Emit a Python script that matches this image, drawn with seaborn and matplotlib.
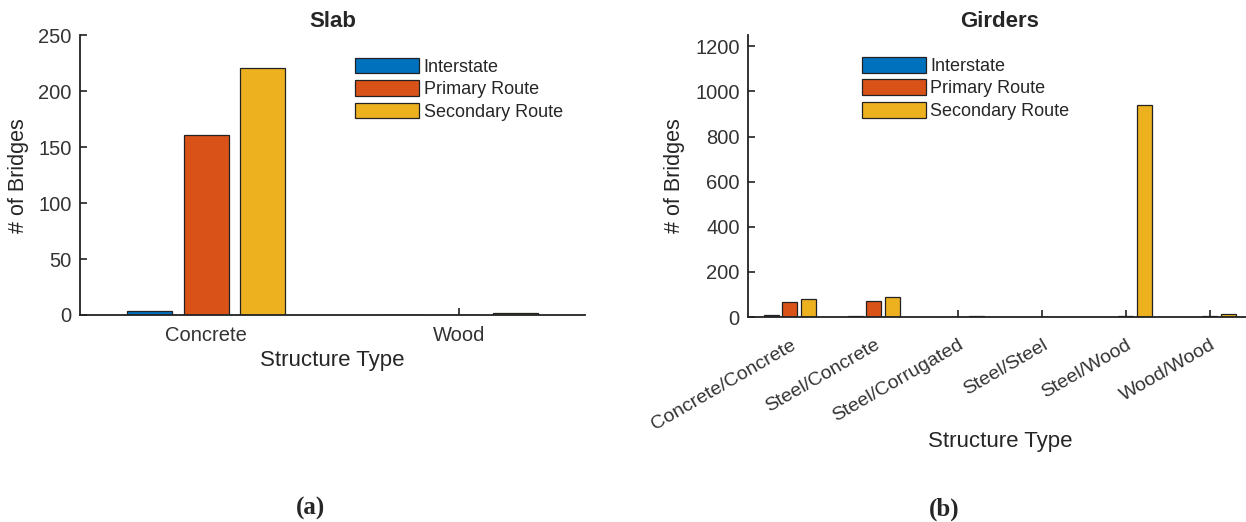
import pandas as pd
import numpy as np
import matplotlib
matplotlib.use("Agg")
import matplotlib.pyplot as plt
import seaborn as sns

sns.set_style("ticks")
plt.rcParams['font.family'] = ['Liberation Sans', 'DejaVu Sans']

# datos
rutas = ['Interstate', 'Primary Route', 'Secondary Route']
colores = ['#0072BD', '#D95319', '#EDB120']

tipos_losa = ['Concrete', 'Wood']
losa_interstate = [4, 0]
losa_primaria = [161, 0]
losa_secundaria = [221, 2]

tipos_viga = ['Concrete/Concrete', 'Steel/Concrete', 'Steel/Corrugated',
              'Steel/Steel', 'Steel/Wood', 'Wood/Wood']
viga_interstate = [8, 5, 0, 0, 0, 1]
viga_primaria = [65, 72, 0, 0, 3, 3]
viga_secundaria = [78, 87, 6, 2, 940, 14]


def tabla_larga(tipos, *series):
    filas = []
    for ruta, valores in zip(rutas, series):
        for t, v in zip(tipos, valores):
            filas.append({'tipo': t, 'ruta': ruta, 'n': v})
    return pd.DataFrame(filas)


df_losa = tabla_larga(tipos_losa, losa_interstate, losa_primaria, losa_secundaria)
df_viga = tabla_larga(tipos_viga, viga_interstate, viga_primaria, viga_secundaria)

fig = plt.figure(figsize=(12.46, 5.22), dpi=100)
ax1 = fig.add_axes([0.0642, 0.3966, 0.4053, 0.5354])
ax2 = fig.add_axes([0.6003, 0.3927, 0.4045, 0.5403])


def dibujar(ax, df, orden, titulo, ylim, yticks, leg_x, leg_y):
    sns.barplot(data=df, x='tipo', y='n', hue='ruta', order=orden,
                hue_order=rutas, palette=colores, saturation=1,
                width=0.67, gap=0.2, edgecolor='#222222', linewidth=0.9,
                errorbar=None, ax=ax)
    ax.set_xlim(-0.5, len(orden) - 0.5)
    ax.set_ylim(*ylim)
    ax.set_yticks(yticks)
    ax.set_title(titulo, fontsize=16, fontweight='bold', pad=6)
    ax.set_ylabel('# of Bridges', fontsize=15.5, labelpad=7, color='#262626')
    ax.set_xlabel('Structure Type', fontsize=16, color='#262626')
    ax.tick_params(direction='in', length=5, width=1.2, labelsize=14.5,
                   colors='#222222', labelcolor='#333333')
    ax.tick_params(axis='y', pad=6)
    for lado in ['top', 'right']:
        ax.spines[lado].set_visible(False)
    for lado in ['left', 'bottom']:
        ax.spines[lado].set_linewidth(1.3)
        ax.spines[lado].set_color('#222222')
    ax.legend(loc='upper left', bbox_to_anchor=(leg_x, leg_y), frameon=False,
              fontsize=13, handlelength=3.55, handleheight=0.95,
              labelspacing=0.25, handletextpad=0.25, borderaxespad=0,
              borderpad=0)


dibujar(ax1, df_losa, tipos_losa, 'Slab', (0, 250),
        [0, 50, 100, 150, 200, 250], 0.545, 0.92)
dibujar(ax2, df_viga, tipos_viga, 'Girders', (0, 1250),
        [0, 200, 400, 600, 800, 1000, 1200], 0.226, 0.922)

ax1.tick_params(axis='x', pad=8)
ax1.xaxis.set_label_coords(0.5, -0.125)

ax2.tick_params(axis='x', pad=14, labelsize=14)
plt.setp(ax2.get_xticklabels(), rotation=30, ha='right', rotation_mode='anchor')
ax2.xaxis.set_label_coords(0.5, -0.405)

fig.text(0.249, 0.025, '(a)', fontsize=18, fontweight='bold',
         family='Liberation Serif', ha='center', va='center')
fig.text(0.758, 0.025, '(b)', fontsize=18, fontweight='bold',
         family='Liberation Serif', ha='center', va='center')

fig.savefig('out.png', dpi=100)
